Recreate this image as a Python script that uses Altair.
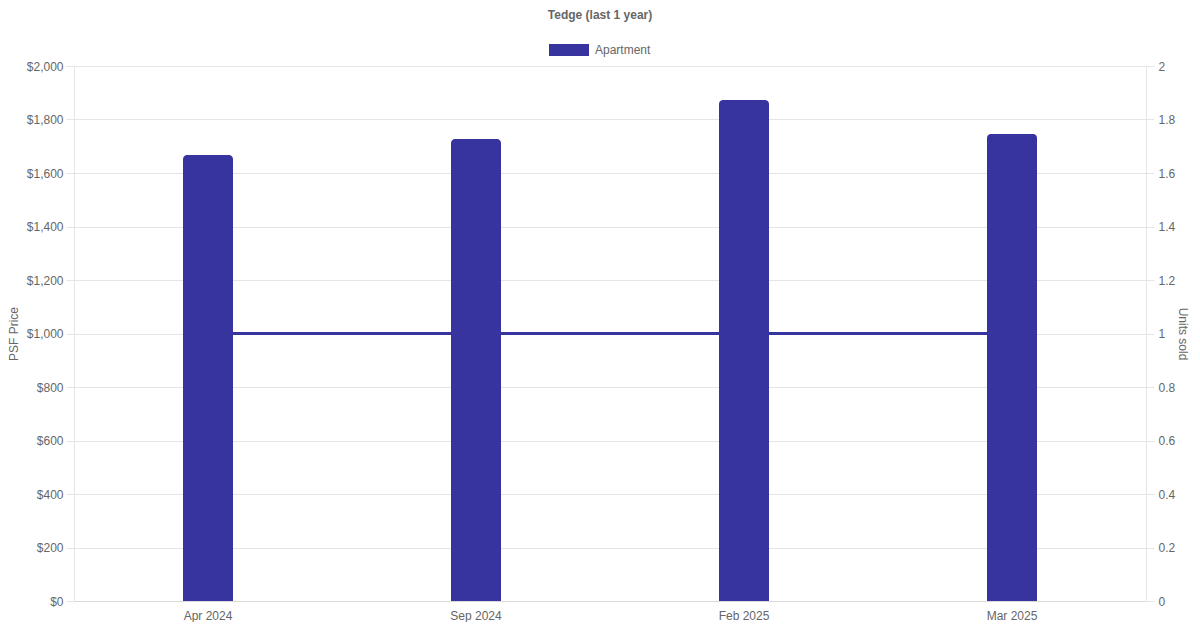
import altair as alt
import pandas as pd

months = ["Apr 2024", "Sep 2024", "Feb 2025", "Mar 2025"]
psf_price = [1667, 1727, 1873, 1746]
units_sold = [1, 1, 1, 1]
series = ["Apartment", "Apartment", "Apartment", "Apartment"]

df = pd.DataFrame({"month": months, "psf": psf_price, "units": units_sold, "type": series})

COLOR = "#38349f"
FONT = "Liberation Sans"
GRAY = "#666666"

x = alt.X("month:N", sort=months, title=None,
          scale=alt.Scale(paddingInner=0, paddingOuter=0),
          axis=alt.Axis(labelAngle=0, ticks=False, tickSize=0, labelPadding=9,
                        domainColor="#d9d9d9", grid=False, labelColor=GRAY, labelFontSize=12))

line = alt.Chart(df).mark_line(color=COLOR, strokeWidth=3).encode(
    x=x,
    y=alt.Y("units:Q", title="Units sold",
            scale=alt.Scale(domain=[0, 2], nice=False),
            axis=alt.Axis(orient="right", values=[0, 0.2, 0.4, 0.6, 0.8, 1, 1.2, 1.4, 1.6, 1.8, 2],
                          format=".1~f", grid=False, tickSize=8, tickColor="#e5e5e5",
                          domainColor="#e5e5e5", labelPadding=4, titlePadding=1,
                          labelColor=GRAY, titleColor=GRAY, labelFontSize=12,
                          titleFontSize=12, titleFontWeight="normal")),
)

bars = alt.Chart(df).mark_bar(size=50, cornerRadiusTopLeft=4, cornerRadiusTopRight=4).encode(
    x=x,
    y=alt.Y("psf:Q", title="PSF Price",
            scale=alt.Scale(domain=[0, 2000], nice=False),
            axis=alt.Axis(orient="left", values=list(range(0, 2001, 200)),
                          format="$,.0f", grid=True, gridColor="#e5e5e5",
                          tickSize=8, tickColor="#e5e5e5", domainColor="#e5e5e5",
                          labelPadding=3, titlePadding=6,
                          labelColor=GRAY, titleColor=GRAY, labelFontSize=12,
                          titleFontSize=12, titleFontWeight="normal")),
    color=alt.Color("type:N", scale=alt.Scale(range=[COLOR]),
                    legend=alt.Legend(title=None, orient="none", legendX=475, legendY=-36,
                                      direction="horizontal",
                                      symbolType="M-1,-0.3H1V0.3H-1Z", symbolSize=1600,
                                      symbolStrokeWidth=0, labelFontSize=12, labelColor=GRAY,
                                      labelOffset=6)),
)

chart = alt.layer(line, bars).resolve_scale(y="independent").properties(
    width=1072, height=535,
    autosize=alt.AutoSizeParams(type="none"),
    padding={"left": 66, "top": 58, "right": 46, "bottom": 21},
    title=alt.TitleParams("Tedge (last 1 year)", fontSize=12, fontWeight="bold",
                          color=GRAY, font=FONT, anchor="middle", dx=-10, offset=8),
).configure(font=FONT).configure_view(stroke=None)

chart.save("out.html", embed_options={"renderer": "svg", "actions": False})
